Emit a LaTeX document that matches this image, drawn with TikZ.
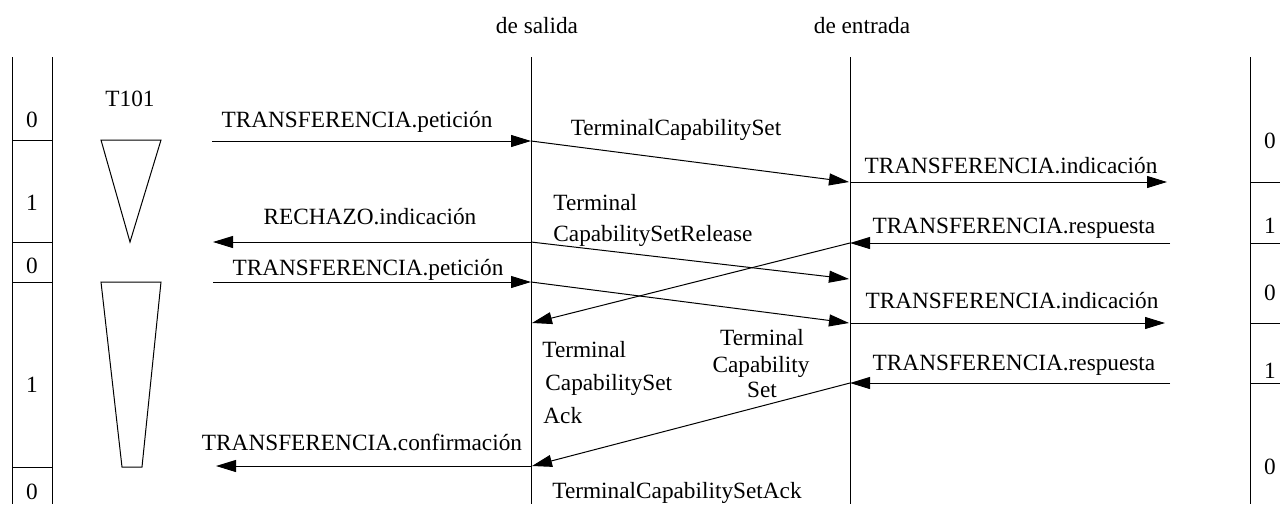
\documentclass[tikz,border=0pt]{standalone}
\usepackage{fontspec}
\setmainfont{Liberation Serif}
\usetikzlibrary{arrows.meta}
\begin{document}
\begin{tikzpicture}[x=0.5pt,y=-0.5pt,
  txt/.style={font=\fontsize{11.64}{14}\selectfont, inner sep=0pt, anchor=base},
  txtl/.style={txt, anchor=base west},
  ln/.style={line width=0.5pt},
  msg/.style={line width=0.5pt, -{Triangle[length=10pt,width=6pt]}}]
\useasboundingbox (0,0) rectangle (1280,504);
% headers
\node[txt] (hsal) at (537,33) {de salida};
\node[txt] (hent) at (862,33) {de entrada};
% lifelines
\coordinate (salT) at (531,57); \coordinate (salB) at (531,504);
\coordinate (entT) at (850,57); \coordinate (entB) at (850,504);
\draw[ln] (salT) -- (salB);
\draw[ln] (entT) -- (entB);
% left state column
\draw[ln] (12,57) -- (12,504);
\draw[ln] (52,57) -- (52,504);
\foreach \y in {140,242,282,467} \draw[ln] (12,\y) -- (52,\y);
\node[txt] (l0a) at (32,127) {0};
\node[txt] (l1a) at (32,210) {1};
\node[txt] (l0b) at (32,273) {0};
\node[txt] (l1b) at (32,392) {1};
\node[txt] (l0c) at (32,499) {0};
% right state column
\draw[ln] (1250,57) -- (1250,504);
\foreach \y in {182,243,323,383} \draw[ln] (1250,\y) -- (1280,\y);
\node[txt] (r0a) at (1270,148) {0};
\node[txt] (r1a) at (1270,233) {1};
\node[txt] (r0b) at (1270,300) {0};
\node[txt] (r1b) at (1270,378) {1};
\node[txt] (r0c) at (1270,474) {0};
% timer
\node[txt] (t101) at (130,106) {T101};
\draw[ln] (101,140) -- (161,140) -- (130,242) -- cycle;
\draw[ln] (101,282) -- (161,282) -- (142,467) -- (122,467) -- cycle;
% endpoints
\coordinate (u1) at (212,141);   \coordinate (s1) at (531,141);
\coordinate (e1) at (849,182);   \coordinate (e1b) at (850,182); \coordinate (v1) at (1167,182);
\coordinate (v2) at (1170,243);  \coordinate (e2) at (850,243);
\coordinate (s2) at (531,242);   \coordinate (u2) at (213,242);
\coordinate (e3) at (849,279);
\coordinate (s3) at (532,323);
\coordinate (u4) at (213,282);   \coordinate (s4) at (531,282);
\coordinate (e4) at (849,323);   \coordinate (e4b) at (850,323); \coordinate (v4) at (1165,323);
\coordinate (v5) at (1170,383);  \coordinate (e5) at (850,383);
\coordinate (s5) at (532,466);   \coordinate (s5b) at (531,466); \coordinate (u5) at (216,466);
% messages
\draw[msg] (u1) -- (s1);
\draw[msg] (s1) -- (e1);
\draw[msg] (e1b) -- (v1);
\draw[msg] (v2) -- (e2);
\draw[msg] (e2) -- (s3);
\draw[msg] (s2) -- (u2);
\draw[msg] (s2) -- (e3);
\draw[msg] (u4) -- (s4);
\draw[msg] (s4) -- (e4);
\draw[msg] (e4b) -- (v4);
\draw[msg] (v5) -- (e5);
\draw[msg] (e5) -- (s5);
\draw[msg] (s5b) -- (u5);
% labels
\node[txt] (m1) at (357,127) {TRANSFERENCIA.petición};
\node[txt] (m2) at (676,135) {TerminalCapabilitySet};
\node[txt] (m3) at (1011,173) {TRANSFERENCIA.indicación};
\node[txt] (m4) at (370,224) {RECHAZO.indicación};
\node[txtl] (m5a) at (553,210) {Terminal};
\node[txtl] (m5b) at (553,241) {CapabilitySetRelease};
\node[txt] (m6) at (1014,233) {TRANSFERENCIA.respuesta};
\node[txt] (m7) at (368,275) {TRANSFERENCIA.petición};
\node[txt] (m8) at (1012,308) {TRANSFERENCIA.indicación};
\node[txtl] (m9a) at (542,357) {Terminal};
\node[txtl] (m9b) at (545,390) {CapabilitySet};
\node[txtl] (m9c) at (543,423) {Ack};
\node[txt] (m10a) at (762,345) {Terminal};
\node[txt] (m10b) at (761,372) {Capability};
\node[txt] (m10c) at (762,397) {Set};
\node[txt] (m11) at (1014,370) {TRANSFERENCIA.respuesta};
\node[txt] (m12) at (362,450) {TRANSFERENCIA.confirmación};
\node[txt] (m13) at (677,498) {TerminalCapabilitySetAck};
\end{tikzpicture}
\end{document}
